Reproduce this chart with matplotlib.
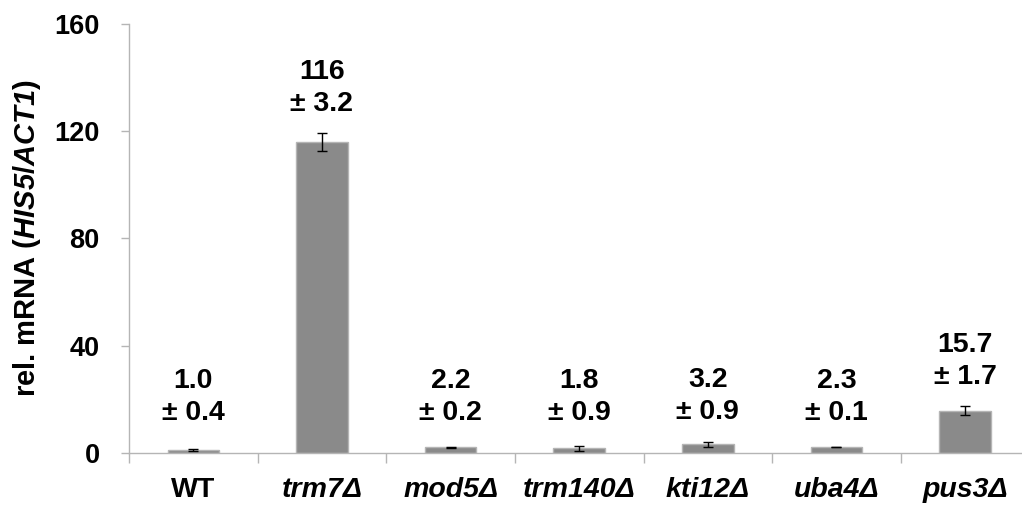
import numpy as np
import matplotlib
matplotlib.use('Agg')
import matplotlib.pyplot as plt
from matplotlib.ticker import FixedLocator, NullFormatter

plt.rcParams['font.family'] = ['Liberation Sans', 'DejaVu Sans']
plt.rcParams['font.weight'] = 'bold'
plt.rcParams['mathtext.fontset'] = 'custom'
plt.rcParams['mathtext.rm'] = 'Liberation Sans:bold'
plt.rcParams['mathtext.sf'] = 'Liberation Sans:italic:bold'
plt.rcParams['mathtext.it'] = 'Liberation Sans:italic:bold'
plt.rcParams['mathtext.bf'] = 'Liberation Sans:bold'

# data
strains = ['WT', 'trm7Δ', 'mod5Δ', 'trm140Δ', 'kti12Δ', 'uba4Δ', 'pus3Δ']
values = [1.0, 116, 2.2, 1.8, 3.2, 2.3, 15.7]
errors = [0.4, 3.2, 0.2, 0.9, 0.9, 0.1, 1.7]
value_text = ['1.0', '116', '2.2', '1.8', '3.2', '2.3', '15.7']
error_text = ['0.4', '3.2', '0.2', '0.9', '0.9', '0.1', '1.7']
yticks = [0, 40, 80, 120, 160]

W, H = 1022, 505
fig = plt.figure(figsize=(W/100, H/100), dpi=100)
ax = fig.add_axes([129/W, (H-453)/H, 894/W, 429/H])

x = np.arange(len(strains))
ax.bar(x, values, width=0.4, color='#8a8a8a', edgecolor='#b5b5b5', linewidth=1, zorder=2)
ax.errorbar(x, values, yerr=errors, fmt='none', ecolor='black', elinewidth=1,
            capsize=3.5, capthick=1, zorder=3)

# value labels sit above the bar, or at a fixed floor for the small ones
for xi, v, e, vt, et in zip(x, values, errors, value_text, error_text):
    base = max(v + e, 4)
    ax.annotate(vt + '\n± ' + et, (xi, base), xytext=(0, 12), textcoords='offset points',
                ha='center', va='bottom', fontsize=20.5, fontweight='bold', linespacing=1.3)

ax.set_xlim(-0.5, 6.45)
ax.set_ylim(0, 160)
ax.set_yticks(yticks)
ax.set_yticklabels([str(t) for t in yticks])

ax.set_xticks(x)
ax.set_xticklabels(strains)
for i, lbl in enumerate(ax.get_xticklabels()):
    lbl.set_fontweight('bold')
    if i > 0:
        lbl.set_fontstyle('italic')
ax.xaxis.set_minor_locator(FixedLocator(np.arange(-0.5, 6.6, 1)))
ax.xaxis.set_minor_formatter(NullFormatter())
ax.tick_params(axis='x', which='major', length=0, pad=17, labelsize=20.5)
ax.tick_params(axis='x', which='minor', length=7, width=1, color='#b5b5b5')
ax.tick_params(axis='y', length=6, width=1, color='#b5b5b5', pad=15, labelsize=19.5)

for s in ['top', 'right']:
    ax.spines[s].set_visible(False)
for s in ['left', 'bottom']:
    ax.spines[s].set_color('#b5b5b5')
    ax.spines[s].set_linewidth(1)

ax.set_ylabel(r'rel. mRNA ($\mathsf{HIS5}$/$\mathsf{ACT1}$)', fontsize=21, fontweight='bold')
ax.yaxis.set_label_coords(-0.096, 0.5)

fig.savefig('out.png', dpi=100)
